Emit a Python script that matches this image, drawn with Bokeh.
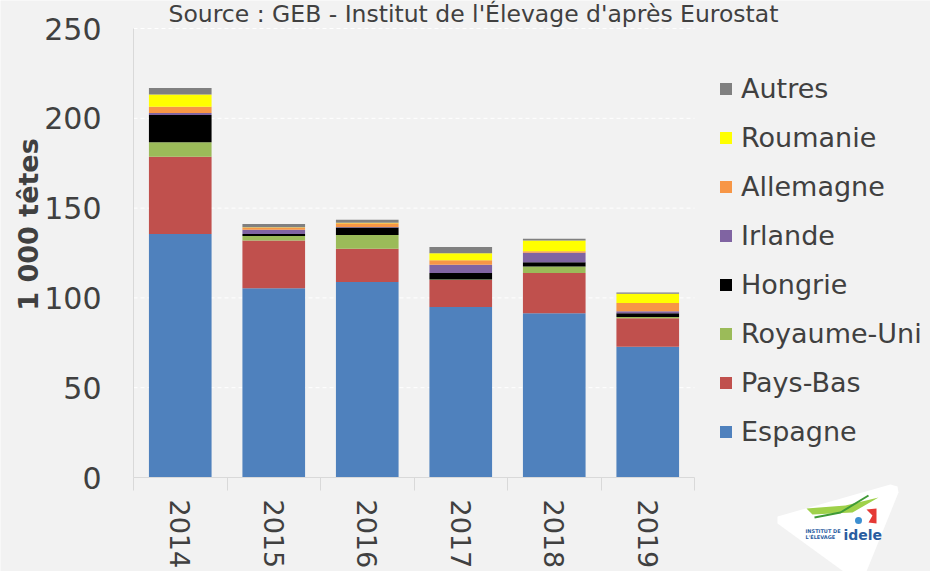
import math
from bokeh.plotting import figure
from bokeh.models import (Range1d, FixedTicker, Legend, LegendItem, Label,
                          ColumnDataSource)
from bokeh.embed import file_html
from bokeh.resources import INLINE

years = ["2014", "2015", "2016", "2017", "2018", "2019"]
countries = ["Espagne", "Pays-Bas", "Royaume-Uni", "Hongrie", "Irlande",
             "Allemagne", "Roumanie", "Autres"]
espagne = [135.6, 105.4, 108.8, 94.9, 91.5, 72.8]
pays_bas = [43.0, 26.5, 18.6, 15.0, 22.4, 15.8]
royaume_uni = [8.1, 2.6, 7.6, 0.3, 3.6, 0.7]
hongrie = [15.2, 1.1, 4.2, 3.6, 2.3, 2.2]
irlande = [1.1, 2.3, 0.3, 4.7, 5.3, 1.1]
allemagne = [3.4, 1.3, 2.0, 2.4, 0.9, 4.5]
roumanie = [6.9, 0.2, 0.3, 4.0, 5.9, 5.2]
autres = [3.6, 1.7, 1.7, 3.4, 1.0, 0.7]
colors = ["#4f81bd", "#c0504d", "#9bbb59", "#000000", "#8064a2",
          "#f79646", "#ffff00", "#808080"]
y_ticks = [0, 50, 100, 150, 200, 250]
y_max = 250

FONT = "DejaVu Sans"
TXT = "#404040"
BG = "#f2f2f2"

W, H = 930, 571
LEFT, TOP, BOTTOM = 133, 28, 94
CAT_PX = 93.5  # pixel width of one year slot
n = len(years)
# the frame covers the whole canvas; both axes are pinned at 0 so that the
# legend, titles and logo around the bars are drawn without clipping
x_start = -LEFT / CAT_PX
x_end = (W - LEFT) / CAT_PX
px_per_unit = (H - TOP - BOTTOM) / y_max
y_end = y_max + TOP / px_per_unit
y_start = -BOTTOM / px_per_unit


def dx(px):
    return x_start + px / CAT_PX


def dy(py):
    return y_end - py / px_per_unit


xpos = [i + 0.5 for i in range(n)]
data = {"x": xpos}
for name, vals in zip(countries, [espagne, pays_bas, royaume_uni, hongrie,
                                  irlande, allemagne, roumanie, autres]):
    data[name] = vals
source = ColumnDataSource(data)

p = figure(width=W, height=H, output_backend="svg", toolbar_location=None,
           x_range=Range1d(x_start, x_end), y_range=Range1d(y_start, y_end),
           min_border=0)
p.background_fill_color = BG
p.border_fill_color = BG
p.outline_line_color = None

# horizontal dashed grid limited to the bar area
p.xgrid.grid_line_color = None
p.ygrid.grid_line_color = None
p.segment(x0=[0] * len(y_ticks), x1=[n] * len(y_ticks), y0=y_ticks, y1=y_ticks,
          line_color="#ffffff", line_dash="4 3", line_width=1)

renderers = p.vbar_stack(countries, x="x", width=0.67, color=colors,
                         source=source, line_color=None)

# source line at the top
p.add_layout(Label(x=dx(168), y=dy(13),
                   text="Source : GEB - Institut de l'Élevage d'après Eurostat",
                   text_font=FONT, text_font_size="23.5px", text_color=TXT,
                   text_align="left", text_baseline="middle"))

# y axis title
p.add_layout(Label(x=dx(27.5), y=dy(224), text="1 000 têtes", angle=math.pi / 2,
                   text_font=FONT, text_font_style="bold",
                   text_font_size="27px", text_color=TXT,
                   text_align="center", text_baseline="middle"))

# y axis (pinned at x=0)
p.yaxis.fixed_location = 0
p.yaxis.bounds = (0, y_max)
p.yaxis.ticker = FixedTicker(ticks=y_ticks)
p.yaxis.major_label_text_font = FONT
p.yaxis.major_label_text_font_size = "30px"
p.yaxis.major_label_text_color = TXT
p.yaxis.axis_line_color = "#d9d9d9"
p.yaxis.major_tick_line_color = None
p.yaxis.major_tick_out = 0
p.yaxis.major_tick_in = 0
p.yaxis.minor_tick_line_color = None
p.yaxis.major_label_standoff = 32

# x axis: pinned at y=0, labels at centres, tick marks at boundaries
p.xaxis.fixed_location = 0
p.xaxis.bounds = (0, n)
p.xaxis.ticker = FixedTicker(ticks=xpos, minor_ticks=list(range(n + 1)))
p.xaxis.major_label_overrides = {x: y for x, y in zip(xpos, years)}
p.xaxis.major_label_orientation = "vertical"
p.xaxis.major_label_text_font = FONT
p.xaxis.major_label_text_font_size = "27px"
p.xaxis.major_label_text_color = TXT
p.xaxis.major_tick_line_color = None
p.xaxis.major_tick_out = 0
p.xaxis.minor_tick_out = 13
p.xaxis.minor_tick_in = 0
p.xaxis.minor_tick_line_color = "#d9d9d9"
p.xaxis.axis_line_color = "#d9d9d9"
p.xaxis.major_label_standoff = 9

# legend (right of the bars)
items = [LegendItem(label=c, renderers=[r]) for c, r in zip(countries, renderers)]
items = items[::-1]
legend = Legend(items=items, location=(LEFT + 585, 30 + BOTTOM),
                orientation="vertical",
                glyph_width=15, glyph_height=15, label_height=32, spacing=17,
                padding=0, margin=0, label_standoff=8,
                label_text_font=FONT, label_text_font_size="27px",
                label_text_color=TXT, background_fill_alpha=0,
                border_line_color=None)
p.add_layout(legend, "center")

# institute logo (decoration, bottom right)
logo_white_x = [777, 890, 897, 898, 866, 843, 777]
logo_white_y = [516, 484, 486, 492, 571, 571, 523]
p.patch([dx(v) for v in logo_white_x], [dy(v) for v in logo_white_y],
        fill_color="white", line_color=None)
logo_green_x = [806, 845, 878, 852, 812]
logo_green_y = [508, 505, 497, 512, 514]
p.patch([dx(v) for v in logo_green_x], [dy(v) for v in logo_green_y],
        fill_color="#9fd14a", line_color=None)
p.line([dx(v) for v in [814, 840, 868]], [dy(v) for v in [517, 512, 495]],
       line_color="#3f9a36", line_width=2)
p.scatter([dx(858)], [dy(520)], size=7, marker="circle",
          fill_color="#3d8fd1", line_color=None)
logo_red_x = [866, 876, 876, 868, 872]
logo_red_y = [509, 508, 523, 522, 515]
p.patch([dx(v) for v in logo_red_x], [dy(v) for v in logo_red_y],
        fill_color="#e53935", line_color=None)
p.add_layout(Label(x=dx(805), y=dy(530), text="INSTITUT DE", text_font=FONT,
                   text_font_style="bold", text_font_size="5px",
                   text_color="#2a5d9f", text_baseline="middle"))
p.add_layout(Label(x=dx(805), y=dy(536), text="L'ÉLEVAGE", text_font=FONT,
                   text_font_style="bold", text_font_size="5px",
                   text_color="#2a5d9f", text_baseline="middle"))
p.add_layout(Label(x=dx(843), y=dy(534), text="idele", text_font=FONT,
                   text_font_style="bold", text_font_size="14px",
                   text_color="#2a5d9f", text_baseline="middle"))

open("out.html", "w").write(file_html(p, INLINE))
